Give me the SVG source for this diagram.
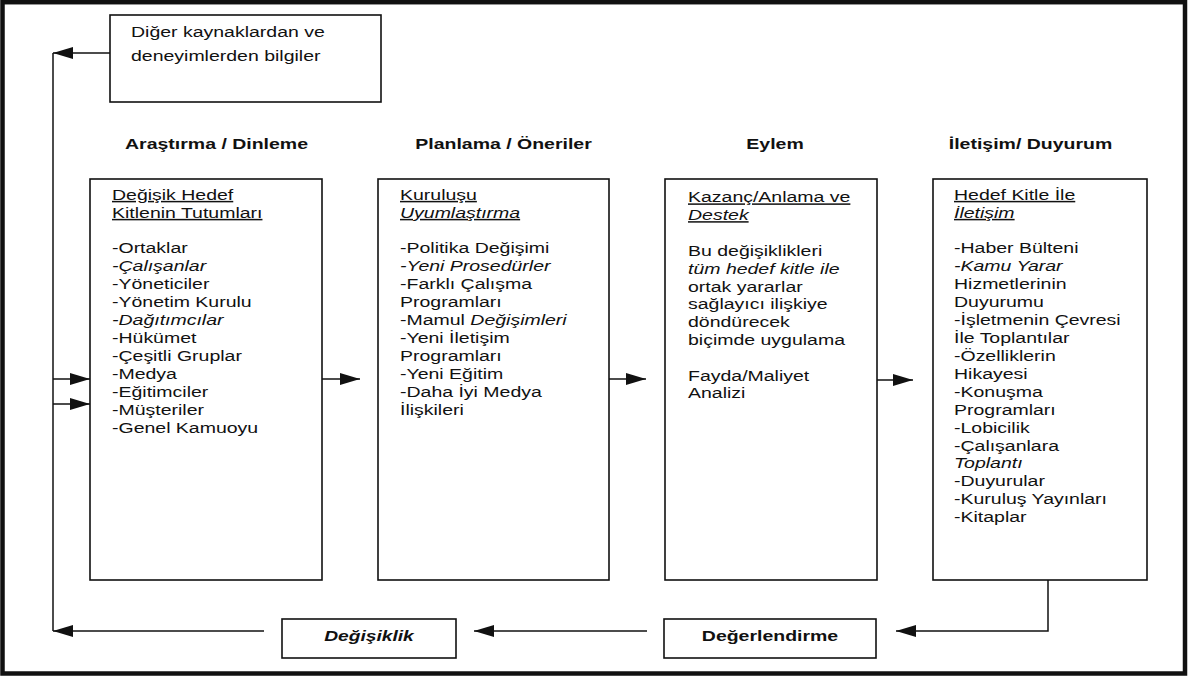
<svg xmlns="http://www.w3.org/2000/svg" width="1196" height="676" viewBox="0 0 1196 676">
<style>
.box{fill:none;stroke:#111;stroke-width:1.6}
.ln{fill:none;stroke:#111;stroke-width:1.5}
text{font-family:"Liberation Sans",Arial,Helvetica,sans-serif;font-size:15px;fill:#111}
.b{font-weight:bold}
.i{font-style:italic}
.u{text-decoration:underline}
</style>
<defs>
<marker id="ah" markerUnits="userSpaceOnUse" markerWidth="21" markerHeight="13" refX="20" refY="6.5" orient="auto">
<path d="M0,0.5 L20,6.5 L0,12.5 z" fill="#111"/>
</marker>
</defs>
<rect x="0" y="0" width="1196" height="676" fill="#fff"/>
<rect x="2.5" y="2.2" width="1182.5" height="671.3" fill="none" stroke="#111" stroke-width="4.5"/>

<g id="connectors">
<path class="ln" d="M110,53 H53" marker-end="url(#ah)"/>
<path class="ln" d="M53,631 V53"/>
<path class="ln" d="M53,379 H90" marker-end="url(#ah)"/>
<path class="ln" d="M53,404 H90" marker-end="url(#ah)"/>
<path class="ln" d="M322,379 H360" marker-end="url(#ah)"/>
<path class="ln" d="M609,379 H646" marker-end="url(#ah)"/>
<path class="ln" d="M877,380 H913" marker-end="url(#ah)"/>
<path class="ln" d="M1048,580 V631 H896" marker-end="url(#ah)"/>
<path class="ln" d="M647,631 H474" marker-end="url(#ah)"/>
<path class="ln" d="M264,631 H53" marker-end="url(#ah)"/>
</g>

<g id="source">
<rect class="box" x="110" y="15" width="271" height="87"/>
<g transform="translate(131 0) scale(1.3 1)">
<text x="0" y="37.5">Diğer kaynaklardan ve</text>
<text x="0" y="61.5">deneyimlerden bilgiler</text>
</g>
</g>

<g id="research">
<g transform="translate(216.5 0) scale(1.3 1)"><text class="b" x="0" y="149" text-anchor="middle">Araştırma / Dinleme</text></g>
<rect class="box" x="90" y="179" width="232" height="401"/>
<g transform="translate(112 0) scale(1.3 1)">
<text class="u" x="0" y="200">Değişik Hedef</text>
<text class="u" x="0" y="218">Kitlenin Tutumları</text>
<text x="0" y="253">-Ortaklar</text>
<text class="i" x="0" y="271">-Çalışanlar</text>
<text x="0" y="289">-Yöneticiler</text>
<text x="0" y="307">-Yönetim Kurulu</text>
<text class="i" x="0" y="325">-Dağıtımcılar</text>
<text x="0" y="343">-Hükümet</text>
<text x="0" y="361">-Çeşitli Gruplar</text>
<text x="0" y="379">-Medya</text>
<text x="0" y="397">-Eğitimciler</text>
<text x="0" y="415">-Müşteriler</text>
<text x="0" y="433">-Genel Kamuoyu</text>
</g>
</g>

<g id="planning">
<g transform="translate(503.5 0) scale(1.3 1)"><text class="b" x="0" y="149" text-anchor="middle">Planlama / Öneriler</text></g>
<rect class="box" x="378" y="179" width="231" height="401"/>
<g transform="translate(400 0) scale(1.3 1)">
<text class="u" x="0" y="200">Kuruluşu</text>
<text class="u i" x="0" y="218">Uyumlaştırma</text>
<text x="0" y="253">-Politika Değişimi</text>
<text class="i" x="0" y="271">-Yeni Prosedürler</text>
<text x="0" y="289">-Farklı Çalışma</text>
<text x="0" y="307">Programları</text>
<text x="0" y="325">-Mamul <tspan class="i">Değişimleri</tspan></text>
<text x="0" y="343">-Yeni İletişim</text>
<text x="0" y="361">Programları</text>
<text x="0" y="379">-Yeni Eğitim</text>
<text x="0" y="397">-Daha İyi Medya</text>
<text x="0" y="415">İlişkileri</text>
</g>
</g>

<g id="action">
<g transform="translate(775 0) scale(1.3 1)"><text class="b" x="0" y="149" text-anchor="middle">Eylem</text></g>
<rect class="box" x="665" y="179" width="212" height="401"/>
<g transform="translate(688 0) scale(1.3 1)">
<text class="u" x="0" y="202.5">Kazanç/Anlama ve</text>
<text class="u i" x="0" y="220.3">Destek</text>
<text x="0" y="256">Bu değişiklikleri</text>
<text class="i" x="0" y="273.8">tüm hedef kitle ile</text>
<text x="0" y="291.6">ortak yararlar</text>
<text x="0" y="309.4">sağlayıcı ilişkiye</text>
<text x="0" y="327.2">döndürecek</text>
<text x="0" y="345">biçimde uygulama</text>
<text x="0" y="380.6">Fayda/Maliyet</text>
<text x="0" y="398.4">Analizi</text>
</g>
</g>

<g id="communication">
<g transform="translate(1030.5 0) scale(1.3 1)"><text class="b" x="0" y="149" text-anchor="middle">İletişim/ Duyurum</text></g>
<rect class="box" x="933" y="179" width="214" height="401"/>
<g transform="translate(954 0) scale(1.3 1)">
<text class="u" x="0" y="200">Hedef Kitle İle</text>
<text class="u i" x="0" y="218">İletişim</text>
<text x="0" y="253">-Haber Bülteni</text>
<text class="i" x="0" y="271">-Kamu Yarar</text>
<text x="0" y="289">Hizmetlerinin</text>
<text x="0" y="307">Duyurumu</text>
<text x="0" y="325">-İşletmenin Çevresi</text>
<text x="0" y="343">İle Toplantılar</text>
<text x="0" y="361">-Özelliklerin</text>
<text x="0" y="379">Hikayesi</text>
<text x="0" y="397">-Konuşma</text>
<text x="0" y="414.8">Programları</text>
<text x="0" y="432.7">-Lobicilik</text>
<text x="0" y="450.6">-Çalışanlara</text>
<text class="i" x="0" y="468.5">Toplantı</text>
<text x="0" y="486.4">-Duyurular</text>
<text x="0" y="504.3">-Kuruluş Yayınları</text>
<text x="0" y="522.2">-Kitaplar</text>
</g>
</g>

<g id="evaluation">
<rect class="box" x="664" y="619" width="212" height="39"/>
<g transform="translate(770 0) scale(1.3 1)"><text class="b" x="0" y="641.5" text-anchor="middle">Değerlendirme</text></g>
</g>

<g id="change">
<rect class="box" x="282" y="619" width="174" height="39"/>
<g transform="translate(369 0) scale(1.28 1)"><text class="b i" x="0" y="641.5" text-anchor="middle">Değişiklik</text></g>
</g>
</svg>
